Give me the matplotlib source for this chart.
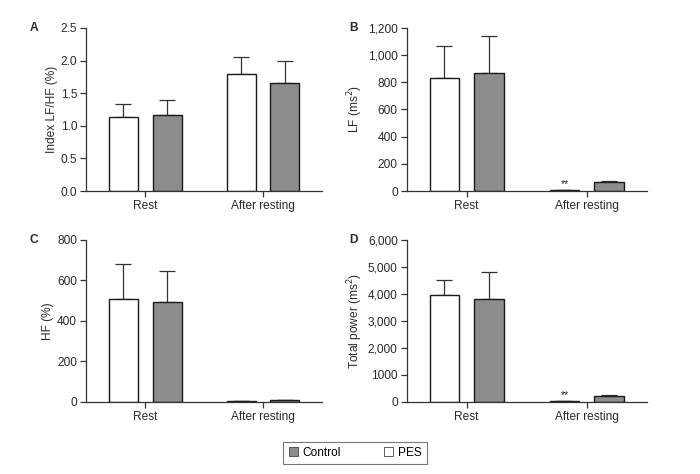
import matplotlib
matplotlib.use("Agg")
import matplotlib.pyplot as plt
from matplotlib.patches import Patch
import numpy as np

plt.rcParams['font.family'] = ['Liberation Sans', 'DejaVu Sans']

groups = ["Rest", "After resting"]
series = ["PES", "Control"]

# Panel A: Index LF/HF (%)
a_pes = [1.13, 1.79]
a_pes_err = [0.20, 0.26]
a_ctl = [1.16, 1.65]
a_ctl_err = [0.24, 0.35]

# Panel B: LF (ms2)
b_pes = [830, 5]
b_pes_err = [240, 0]
b_ctl = [870, 65]
b_ctl_err = [270, 6]

# Panel C: HF (%)
c_pes = [510, 3]
c_pes_err = [170, 0]
c_ctl = [495, 8]
c_ctl_err = [153, 0]

# Panel D: Total power (ms2)
d_pes = [3960, 20]
d_pes_err = [560, 0]
d_ctl = [3820, 230]
d_ctl_err = [1000, 30]

a_ticks = [0.0, 0.5, 1.0, 1.5, 2.0, 2.5]
a_ticklabels = ["0.0", "0.5", "1.0", "1.5", "2.0", "2.5"]
b_ticks = [0, 200, 400, 600, 800, 1000, 1200]
b_ticklabels = ["0", "200", "400", "600", "800", "1,000", "1,200"]
c_ticks = [0, 200, 400, 600, 800]
c_ticklabels = ["0", "200", "400", "600", "800"]
d_ticks = [0, 1000, 2000, 3000, 4000, 5000, 6000]
d_ticklabels = ["0", "1000", "2,000", "3,000", "4,000", "5,000", "6,000"]

fig = plt.figure(figsize=(7.0, 4.74), dpi=100)

pes_color = "white"
ctl_color = "#8c8c8c"
edge = "#1a1a1a"
txt = "#2a2a2a"

def panel(rect, letter, ylabel, pes, pes_err, ctl, ctl_err, ticks, ticklabels, stars=False):
    ax = fig.add_axes(rect)
    x = np.arange(len(groups))
    w = 0.246
    off = 0.186
    ax.bar(x - off, pes, w, color=pes_color, edgecolor=edge, linewidth=1.0, zorder=2)
    ax.bar(x + off, ctl, w, color=ctl_color, edgecolor=edge, linewidth=1.0, zorder=2)
    ax.errorbar(x - off, pes, yerr=[np.zeros(len(pes)), pes_err], fmt="none",
                ecolor="#333333", elinewidth=0.9, capsize=5.5, capthick=0.9, zorder=1)
    ax.errorbar(x + off, ctl, yerr=[np.zeros(len(ctl)), ctl_err], fmt="none",
                ecolor="#333333", elinewidth=0.9, capsize=5.5, capthick=0.9, zorder=1)
    ax.set_xlim(-0.5, 1.5)
    ax.set_ylim(ticks[0], ticks[-1])
    ax.set_yticks(ticks)
    ax.set_yticklabels(ticklabels)
    ax.set_xticks(x)
    ax.set_xticklabels(groups)
    for s in ["top", "right"]:
        ax.spines[s].set_visible(False)
    for s in ["left", "bottom"]:
        ax.spines[s].set_color("#333333")
        ax.spines[s].set_linewidth(0.9)
    ax.tick_params(axis="both", labelsize=8.6, colors="#333333", labelcolor=txt,
                   length=4, width=0.9, pad=2.5)
    ax.set_ylabel(ylabel, fontsize=8.6, color=txt, labelpad=2)
    ax.text(-0.22, 1.0, letter, transform=ax.transAxes, fontsize=8.6,
            fontweight="bold", ha="center", va="center", color=txt)
    if stars:
        ax.text(x[1] - off, pes[1] + (ticks[-1] * 0.008), "**", ha="center",
                va="bottom", fontsize=7.5, color=txt)
    return ax

panel([0.123, 0.597, 0.337, 0.344], "A", "Index LF/HF (%)",
      a_pes, a_pes_err, a_ctl, a_ctl_err, a_ticks, a_ticklabels)
panel([0.581, 0.597, 0.343, 0.344], "B", "LF (ms$^2$)",
      b_pes, b_pes_err, b_ctl, b_ctl_err, b_ticks, b_ticklabels, stars=True)
panel([0.123, 0.152, 0.337, 0.342], "C", "HF (%)",
      c_pes, c_pes_err, c_ctl, c_ctl_err, c_ticks, c_ticklabels)
panel([0.581, 0.152, 0.343, 0.342], "D", "Total power (ms$^2$)",
      d_pes, d_pes_err, d_ctl, d_ctl_err, d_ticks, d_ticklabels, stars=True)

handles = [Patch(facecolor=ctl_color, edgecolor="#444444", linewidth=0.6, label="Control"),
           Patch(facecolor="white", edgecolor="#444444", linewidth=0.6, label="PES")]
leg = fig.legend(handles=handles, loc="center", bbox_to_anchor=(355 / 700, 1 - 453 / 474),
                 ncol=2, fontsize=8.6, frameon=True, fancybox=False,
                 handlelength=0.75, handleheight=0.75, handletextpad=0.4,
                 columnspacing=3.6, borderpad=0.45)
leg.get_frame().set_edgecolor("#555555")
leg.get_frame().set_linewidth(0.8)

fig.savefig("out.png", dpi=100)
